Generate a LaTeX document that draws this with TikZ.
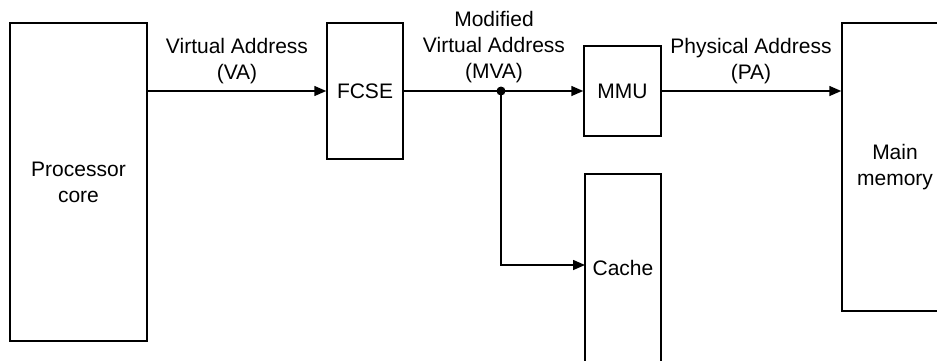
\documentclass[tikz,border=0pt]{standalone}
\usepackage{fontspec}
\setmainfont{Liberation Sans}
\usetikzlibrary{arrows.meta}
\begin{document}
\begin{tikzpicture}[x=1pt,y=-1pt,
  box/.style={draw,line width=1.5pt,inner sep=0pt,align=center},
  lbl/.style={inner sep=0pt,align=center},
  conn/.style={line width=1.5pt,-{Triangle[length=12pt,width=10pt]}},
  every node/.style={font=\fontsize{21}{26}\selectfont}]
\useasboundingbox (0,0) rectangle (937,360);
\clip (0,0) rectangle (937,360);
\node[box,minimum width=137pt,minimum height=318pt] (proc) at (78.5,182) {Processor\\core};
\node[box,minimum width=76pt,minimum height=136pt] (fcse) at (365,91) {FCSE};
\node[box,minimum width=77pt,minimum height=90pt] (mmu) at (622.5,91) {MMU};
\node[box,minimum width=76pt,minimum height=188pt] (cache) at (623,268) {Cache};
\node[box,minimum width=106pt,minimum height=288pt] (mem) at (895,167) {Main\\memory};
\coordinate (j) at (501,91);
\coordinate (cin) at (585,265);
\draw[conn] (proc.east |- fcse) -- (fcse.west);
\draw[conn] (fcse.east) -- (mmu.west);
\draw[conn] (j) |- (cin);
\draw[conn] (mmu.east) -- (mmu.east -| mem.west);
\fill (j) circle (4.5pt);
\node[lbl] (va) at (237,61) {Virtual Address\\(VA)};
\node[lbl] (mva) at (494,47) {Modified\\Virtual Address\\(MVA)};
\node[lbl] (pa) at (751,61) {Physical Address\\(PA)};
\end{tikzpicture}
\end{document}
